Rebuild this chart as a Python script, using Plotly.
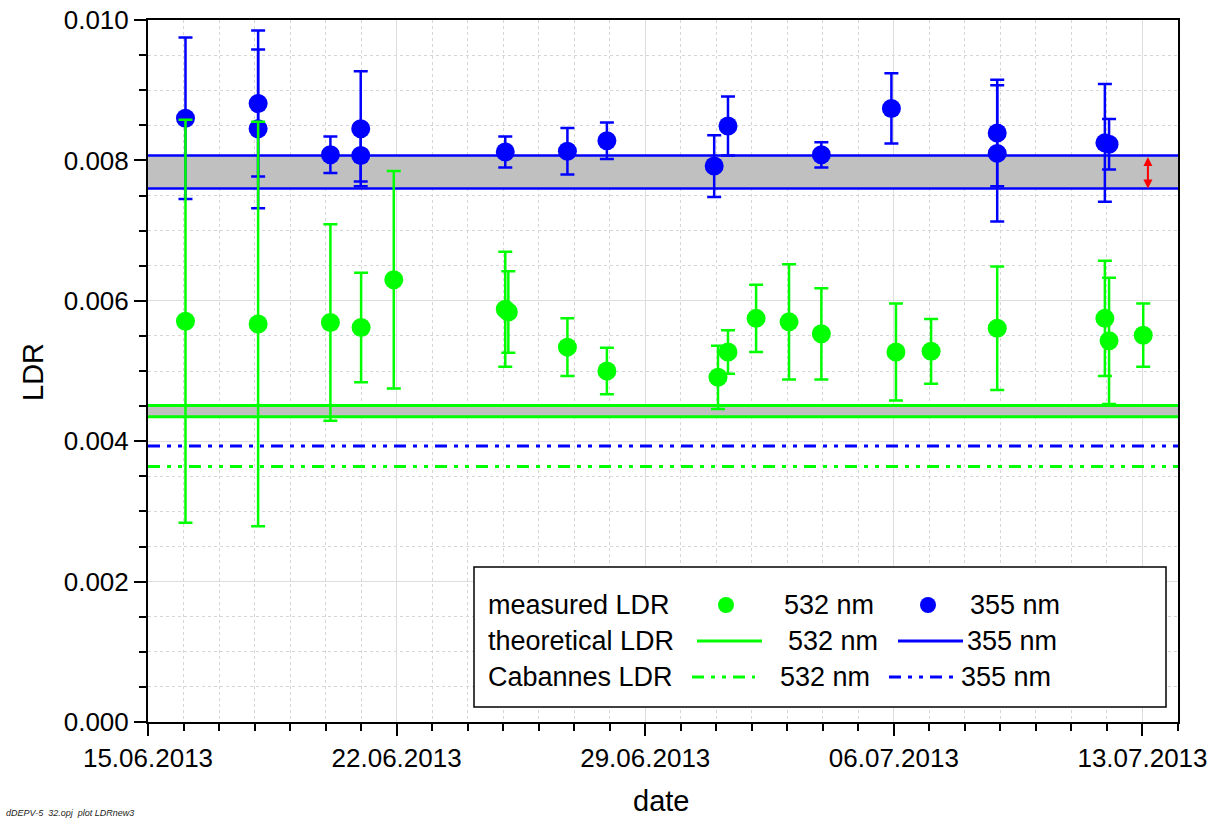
import plotly.graph_objects as go

# ---------------- data ----------------
dates_355 = ["2013-06-16 01:20", "2013-06-18 02:25", "2013-06-18 02:25", "2013-06-20 03:15",
             "2013-06-20 23:45", "2013-06-20 23:45", "2013-06-25 01:25", "2013-06-26 19:25",
             "2013-06-27 22:05", "2013-06-30 22:35", "2013-07-01 07:55", "2013-07-03 23:00",
             "2013-07-05 22:20", "2013-07-08 21:50", "2013-07-08 21:50", "2013-07-11 22:35",
             "2013-07-12 01:25"]
ldr_355 = [0.00860, 0.00881, 0.00845, 0.00808, 0.00845, 0.00807, 0.00812, 0.00813,
           0.00828, 0.00792, 0.00849, 0.00808, 0.00874, 0.00839, 0.00810, 0.00825, 0.00823]
err_355 = [0.00115, 0.00104, 0.00113, 0.00026, 0.00082, 0.00037, 0.00022, 0.00033,
           0.00026, 0.00044, 0.00042, 0.00018, 0.00050, 0.00076, 0.00097, 0.00084, 0.00036]

dates_532 = ["2013-06-16 01:20", "2013-06-18 02:25", "2013-06-20 03:15", "2013-06-21 00:00",
             "2013-06-21 22:05", "2013-06-25 01:25", "2013-06-25 03:30", "2013-06-26 19:25",
             "2013-06-27 22:05", "2013-07-01 01:10", "2013-07-01 07:55", "2013-07-02 02:55",
             "2013-07-03 01:10", "2013-07-03 23:00", "2013-07-06 01:25", "2013-07-07 01:10",
             "2013-07-08 21:50", "2013-07-11 22:35", "2013-07-12 01:25", "2013-07-13 00:30"]
ldr_532 = [0.00571, 0.00567, 0.00569, 0.00562, 0.00630, 0.00588, 0.00584, 0.00534,
           0.00500, 0.00491, 0.00527, 0.00575, 0.00570, 0.00553, 0.00527, 0.00528,
           0.00561, 0.00575, 0.00543, 0.00551]
err_532 = [0.00287, 0.00288, 0.00140, 0.00078, 0.00155, 0.00082, 0.00058, 0.00041,
           0.00033, 0.00045, 0.00031, 0.00048, 0.00082, 0.00065, 0.00069, 0.00046,
           0.00088, 0.00082, 0.00090, 0.00045]

theo_532 = [0.00435, 0.00451]     # theoretical LDR band (low, high)
theo_355 = [0.00760, 0.00807]
cab_532 = 0.00364                 # Cabannes LDR
cab_355 = 0.00393
x_span = ["2013-06-15", "2013-07-14"]
arrow_date = "2013-07-13 03:40"

GREEN = "#00FF00"
BLUE = "#0000FF"
BAND = "#C0C0C0"
FONT = "Arial, 'Liberation Sans', sans-serif"

fig = go.Figure()

# theoretical bands
for lo_hi, col, lw in [(theo_355, BLUE, 2.5), (theo_532, GREEN, 3)]:
    fig.add_trace(go.Scatter(x=x_span, y=[lo_hi[0]] * 2, mode="lines",
                             line=dict(color=col, width=lw), showlegend=False, hoverinfo="skip"))
    fig.add_trace(go.Scatter(x=x_span, y=[lo_hi[1]] * 2, mode="lines", fill="tonexty",
                             fillcolor=BAND, line=dict(color=col, width=lw),
                             showlegend=False, hoverinfo="skip"))

DASH = "12px,7px,4px,7px,4px,7px"
fig.add_trace(go.Scatter(x=x_span, y=[cab_355] * 2, mode="lines",
                         line=dict(color=BLUE, width=3, dash=DASH), showlegend=False))
fig.add_trace(go.Scatter(x=x_span, y=[cab_532] * 2, mode="lines",
                         line=dict(color=GREEN, width=3, dash=DASH), showlegend=False))

fig.add_trace(go.Scatter(x=dates_355, y=ldr_355, mode="markers",
                         marker=dict(color=BLUE, size=19, line=dict(width=0)),
                         error_y=dict(type="data", array=err_355, color=BLUE, thickness=2.5, width=7),
                         showlegend=False))
fig.add_trace(go.Scatter(x=dates_532, y=ldr_532, mode="markers",
                         marker=dict(color=GREEN, size=19, line=dict(width=0)),
                         error_y=dict(type="data", array=err_532, color=GREEN, thickness=2.5, width=7),
                         showlegend=False))

# ---------------- layout helpers (pixel -> paper) ----------------
L, R, T, B = 148, 1178, 20, 722
W, H = 1227, 819


def px(x):
    return (x - L) / (R - L)


def py(y):
    return (B - y) / (B - T)


shapes = []
annotations = []

# legend box
shapes.append(dict(type="rect", xref="paper", yref="paper", x0=px(474), x1=px(1166),
                   y0=py(707), y1=py(567), line=dict(color="black", width=1.5),
                   fillcolor="white", layer="above"))


def txt(x, y, s, size=27, **kw):
    d = dict(xref="paper", yref="paper", x=px(x), y=py(y), text=s, showarrow=False,
             xanchor="left", yanchor="middle", font=dict(family=FONT, size=size, color="black"))
    d.update(kw)
    annotations.append(d)


rows = [605, 641, 677]
txt(486, rows[0], "measured LDR")
txt(486, rows[1], "theoretical LDR")
txt(486, rows[2], "Cabannes LDR")
txt(782, rows[0], "532 nm")
txt(968, rows[0], "355 nm")
txt(786, rows[1], "532 nm")
txt(965, rows[1], "355 nm")
txt(778, rows[2], "532 nm")
txt(959, rows[2], "355 nm")

for cx, col in [(726, GREEN), (928, BLUE)]:
    shapes.append(dict(type="circle", xref="paper", yref="paper", xsizemode="pixel",
                       ysizemode="pixel", xanchor=px(cx), yanchor=py(rows[0]),
                       x0=-8, x1=8, y0=-8, y1=8, fillcolor=col, line=dict(width=0), layer="above"))
for x0, x1, col in [(697, 762, GREEN), (898, 963, BLUE)]:
    shapes.append(dict(type="line", xref="paper", yref="paper", x0=px(x0), x1=px(x1),
                       y0=py(rows[1]), y1=py(rows[1]), line=dict(color=col, width=3), layer="above"))
for x0, x1, col in [(692, 755, GREEN), (889, 958, BLUE)]:
    shapes.append(dict(type="line", xref="paper", yref="paper", x0=px(x0), x1=px(x1),
                       y0=py(rows[2]), y1=py(rows[2]),
                       line=dict(color=col, width=3, dash=DASH), layer="above"))

# red double arrow showing theoretical 355 band width
annotations.append(dict(x=arrow_date, y=theo_355[0], ax=arrow_date, ay=theo_355[1],
                        xref="x", yref="y", axref="x", ayref="y", text="", showarrow=True,
                        arrowside="end+start", arrowhead=2, arrowsize=0.9, arrowwidth=2,
                        arrowcolor="#FF0000", standoff=0, startstandoff=0))

# axis titles
annotations.append(dict(xref="paper", yref="paper", x=px(661), y=py(801), text="date",
                        showarrow=False, xanchor="center", yanchor="middle",
                        font=dict(family=FONT, size=29, color="black")))
annotations.append(dict(xref="paper", yref="paper", x=px(33), y=py(372), text="LDR",
                        showarrow=False, xanchor="center", yanchor="middle", textangle=-90,
                        font=dict(family=FONT, size=29, color="black")))
# footer
annotations.append(dict(xref="paper", yref="paper", x=px(4), y=py(813),
                        text="<i>dDEPV-5  32.opj  plot LDRnew3</i>",
                        showarrow=False, xanchor="left", yanchor="middle",
                        font=dict(family=FONT, size=9, color="#222222")))

axis_common = dict(showline=True, linewidth=2, linecolor="black", mirror=True,
                   ticks="outside", ticklen=12, tickwidth=2, tickcolor="black",
                   showgrid=True, gridcolor="#dddddd", gridwidth=1, zeroline=False,
                   automargin=False,
                   tickfont=dict(family=FONT, size=26, color="black"))

fig.update_layout(
    width=W, height=H,
    margin=dict(l=L, r=W - R, t=T, b=H - B),
    paper_bgcolor="white", plot_bgcolor="white",
    showlegend=False,
    xaxis=dict(type="date", range=x_span, tick0="2013-06-15", dtick=7 * 86400000,
               tickformat="%d.%m.%Y",
               minor=dict(dtick=86400000, ticks="outside", ticklen=7, tickwidth=2,
                          tickcolor="black", showgrid=True, gridcolor="#d6d6d6",
                          griddash="dot", gridwidth=1),
               **axis_common),
    yaxis=dict(range=[0, 0.010], dtick=0.002, tickformat=".3f",
               minor=dict(dtick=0.0005, ticks="outside", ticklen=7, tickwidth=2,
                          tickcolor="black", showgrid=True, gridcolor="#d6d6d6",
                          griddash="dot", gridwidth=1),
               **axis_common),
    shapes=shapes,
    annotations=annotations,
)

fig.write_html("out.html")
